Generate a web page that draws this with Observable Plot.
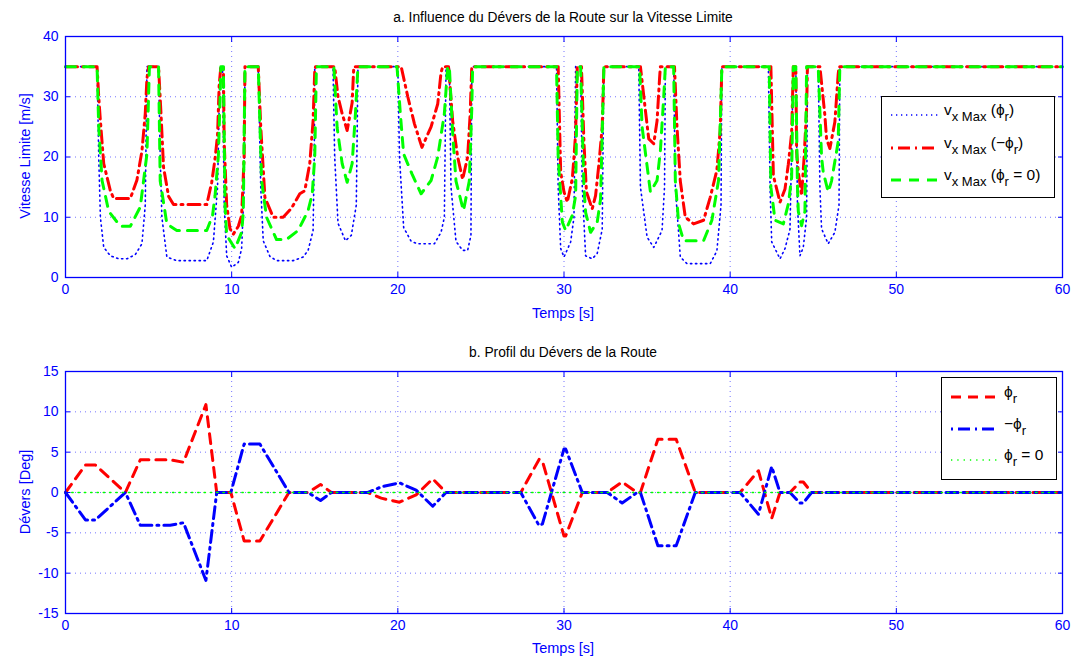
<!DOCTYPE html>
<html>
<head>
<meta charset="utf-8">
<script src="https://cdn.jsdelivr.net/npm/d3@7"></script>
<script src="https://cdn.jsdelivr.net/npm/@observablehq/plot@0.6"></script>
<style>
  html, body { margin: 0; padding: 0; background: #fff; }
  body { width: 1078px; height: 657px; position: relative; overflow: hidden; font-family: "Liberation Sans", Arial, sans-serif; }
  .abs { position: absolute; white-space: nowrap; }
  .title { font-size: 13.8px; color: #000; line-height: 18px; transform: translateX(-50%); }
  .xlab { font-size: 14.5px; color: #0000ff; line-height: 16px; transform: translateX(-50%); }
  .ylab { font-size: 14.5px; color: #0000ff; line-height: 16px; transform: translate(-50%, -50%) rotate(-90deg); }
  .legend { position: absolute; background: #fff; border: 1px solid #000; box-sizing: border-box; }
  .legend svg { position: absolute; left: 0; top: 0; }
  .row { position: absolute; white-space: nowrap; color: #000; line-height: 18px; }
  .m { font-size: 15.5px; }
  .s { font-size: 13px; position: relative; top: 6px; }
</style>
</head>
<body>
<div id="p1" class="abs" style="left:0;top:0"></div>
<div id="p2" class="abs" style="left:0;top:330px"></div>
<script>
// ---------- data ----------
const xTicks = [0, 10, 20, 30, 40, 50, 60];
const yTicksTop = [0, 10, 20, 30, 40];
const yTicksBot = [-15, -10, -5, 0, 5, 10, 15];

// v_x Max (phi_r)  [t (s), v (m/s)]
const vxPhi = [
  [0,35],[1.9,35],[2.0,20],[2.1,10],[2.3,5.0],[2.7,3.6],[3.2,3.1],[3.7,3.1],[4.2,3.8],[4.6,5.6],[4.8,12],[4.9,35],
  [5.6,35],[5.7,20],[5.8,10],[6.1,3.4],[6.7,2.8],[8.5,2.8],[8.9,5.9],[9.15,15],[9.3,35],
  [9.45,35],[9.55,12],[9.7,3.6],[10.0,1.7],[10.4,2.5],[10.6,4.8],[10.75,15],[10.8,35],
  [11.6,35],[11.75,15],[11.9,6.1],[12.3,3.5],[12.7,2.8],[13.7,2.8],[14.3,3.4],[14.6,4.5],[14.9,7.8],[14.97,20],[15.0,35],
  [16.1,35],[16.2,20],[16.4,9],[16.85,6.1],[17.2,7],[17.5,12],[17.6,35],
  [20.0,35],[20.1,20],[20.35,8.3],[20.8,6.0],[21.2,5.6],[22.2,5.6],[22.6,7.5],[22.8,10],[22.9,35],
  [23.1,35],[23.2,15],[23.5,6],[23.9,4.5],[24.2,4.5],[24.4,7],[24.45,35],
  [29.55,35],[29.65,15],[29.8,4.8],[30.0,3.4],[30.4,5.9],[30.6,10],[30.7,35],
  [31.0,35],[31.1,15],[31.3,3.6],[31.7,3.1],[32.0,4],[32.3,8],[32.4,35],
  [34.5,35],[34.6,15],[35.0,6.7],[35.4,5.0],[35.9,7.8],[36.05,15],[36.1,35],
  [36.6,35],[36.7,15],[37.0,3.4],[37.4,2.3],[38.8,2.3],[39.2,4.4],[39.45,12],[39.5,35],
  [42.3,35],[42.4,15],[42.5,5.9],[43.0,3.1],[43.3,4.8],[43.6,8],[43.8,35],
  [43.95,35],[44.05,12],[44.2,3.6],[44.4,5],[44.6,10],[44.65,35],
  [45.3,35],[45.4,15],[45.5,8.1],[45.9,5.6],[46.3,7.5],[46.55,12],[46.6,35],[60,35]
];

// v_x Max (-phi_r)
const vxNegPhi = [
  [0,35],[1.9,35],[2.0,30],[2.1,26],[2.3,18.9],[2.7,14.4],[2.9,13.1],[3.9,13.1],[4.3,16.2],[4.6,21],[4.8,27.2],[4.9,33],[5.0,35],
  [5.6,35],[5.75,27],[5.9,18.3],[6.2,13.5],[6.5,12.1],[8.5,12.1],[8.8,15.8],[9.0,19.7],[9.15,23.6],[9.25,32],[9.35,35],
  [9.5,35],[9.55,22.5],[9.7,12],[9.9,8.1],[10.1,7.2],[10.4,8.5],[10.6,10.3],[10.75,20],[10.8,35],
  [11.6,35],[11.75,25],[12.0,13.3],[12.5,10],[13.1,10],[13.6,11.5],[14.1,13.9],[14.4,14.4],[14.7,18.9],[14.9,26],[15.0,34.4],[15.05,35],
  [16.2,35],[16.4,30],[16.65,27.2],[16.95,24.4],[17.25,29],[17.35,35],
  [20.2,35],[20.6,30],[21.0,25.5],[21.45,21.6],[22.0,25],[22.4,28.8],[22.6,34],[22.7,35],
  [23.05,35],[23.3,26],[23.6,20],[23.9,16.3],[24.2,20],[24.35,27],[24.45,35],
  [29.65,35],[29.8,17.5],[30.0,14.2],[30.2,12.5],[30.5,16.4],[30.6,20],[30.7,24],[30.8,35],
  [31.05,35],[31.2,22.5],[31.35,14.2],[31.7,11.4],[31.9,13.6],[32.1,18.8],[32.3,25],[32.4,35],
  [34.6,35],[34.9,27.7],[35.1,23],[35.4,22.2],[35.6,26],[35.75,33],[35.8,35],
  [36.65,35],[36.8,25],[37.0,16],[37.3,10],[37.8,8.9],[38.4,9.5],[38.8,13.3],[39.2,17.8],[39.4,24.4],[39.5,35],
  [42.45,35],[42.6,16.9],[43.0,12.5],[43.3,14.7],[43.5,18.8],[43.7,24],[43.8,35],
  [43.95,35],[44.0,20.8],[44.1,17.5],[44.3,13.6],[44.45,20],[44.6,28],[44.65,35],
  [45.4,35],[45.7,26.9],[45.8,23],[46.0,21.4],[46.3,25.8],[46.5,33.7],[46.55,35],[60,35]
];

// v_x Max (phi_r = 0)
const vxZero = [
  [0,35],[1.9,35],[2.0,25],[2.2,16.1],[2.6,11],[3.3,8.5],[3.9,8.5],[4.5,11.7],[4.9,20.5],[5.05,35],
  [5.6,35],[5.7,16],[6.1,8.9],[6.7,7.8],[8.5,7.8],[8.85,10.3],[9.0,13.6],[9.2,20.2],[9.3,29.4],[9.35,35],
  [9.5,35],[9.6,12],[9.7,7],[10.2,4.8],[10.6,7.5],[10.7,10.8],[10.8,35],
  [11.6,35],[11.8,16.1],[12.1,10],[12.7,6.3],[13.3,6.3],[14.0,7.8],[14.6,11.1],[14.85,13.9],[15.0,20],[15.1,35],
  [16.15,35],[16.35,24.8],[16.65,18.9],[16.95,15.8],[17.25,18.9],[17.45,27.2],[17.6,35],
  [19.95,35],[20.15,27.2],[20.35,20.5],[20.85,17.2],[21.4,13.9],[22.0,16.1],[22.4,20],[22.8,27.2],[23.0,35],
  [23.1,35],[23.3,24],[23.5,16],[23.95,11.1],[24.3,16],[24.45,28],[24.5,35],
  [29.55,35],[29.65,20],[29.9,9.2],[30.1,7.8],[30.5,10.3],[30.7,13.6],[30.8,35],
  [31.0,35],[31.2,15],[31.3,10.8],[31.6,7.5],[32.0,9.2],[32.2,13],[32.4,35],
  [34.55,35],[34.7,25],[35.2,14.2],[35.6,16.1],[35.8,21],[36.0,29.9],[36.1,35],
  [36.6,35],[36.7,16.1],[36.9,8.9],[37.2,6.1],[38.4,6.1],[38.9,9.5],[39.3,16.1],[39.45,30],[39.5,35],
  [42.35,35],[42.45,15],[42.7,9.5],[43.2,8.9],[43.5,12.2],[43.7,16.6],[43.8,35],
  [43.95,35],[44.05,15],[44.1,11],[44.3,8.6],[44.5,11],[44.6,35],
  [45.3,35],[45.5,20],[45.6,17.5],[45.9,14.2],[46.1,16],[46.5,22.5],[46.6,35],[60,35]
];

// bank angle phi_r [t (s), deg]
const phi = [
  [0,0],[1.2,3.4],[1.8,3.4],[3.6,0],[4.5,4.05],[6.3,4.05],[7.1,3.75],[8.45,10.9],[9.1,0],[9.95,0],
  [10.75,-6.0],[11.7,-6.0],[13.45,0],[14.6,0],[15.35,1.0],[16.0,0],[18.2,0],[19.0,-0.7],[20.1,-1.2],
  [21.1,-0.3],[22.1,1.7],[22.9,0],[27.4,0],[28.5,4.1],[28.7,3.9],[30.0,-5.4],[30.1,-5.4],[31.1,0],
  [32.6,0],[33.5,1.3],[34.4,0],[34.6,0],[35.65,6.6],[36.75,6.6],[37.9,0],[40.6,0],[41.7,2.7],
  [42.5,-3.2],[43.0,0],[43.6,0],[44.2,1.3],[44.4,1.3],[44.9,0],[60,0]
];
// -phi_r
const phiNeg = [
  [0,0],[1.2,-3.4],[1.8,-3.4],[3.6,0],[4.5,-4.05],[6.3,-4.05],[7.1,-3.75],[8.45,-10.9],[9.1,0],[9.95,0],
  [10.75,6.0],[11.7,6.0],[13.45,0],[14.6,0],[15.35,-1.0],[16.0,0],[18.2,0],[19.0,0.7],[20.1,1.2],
  [21.1,0.3],[22.1,-1.7],[22.9,0],[27.4,0],[28.5,-4.1],[28.7,-3.9],[30.0,5.4],[30.1,5.4],[31.1,0],
  [32.6,0],[33.5,-1.3],[34.4,0],[34.6,0],[35.65,-6.6],[36.75,-6.6],[37.9,0],[40.6,0],[41.7,-2.7],
  [42.5,3.2],[43.0,0],[43.6,0],[44.2,-1.3],[44.4,-1.3],[44.9,0],[60,0]
];
// phi_r = 0
const phiZero = [[0,0],[60,0]];

// ---------- drawing ----------
const BLUE = "#0000ff", RED = "#ff0000", GREEN = "#00ff00";
const X = d => d[0], Y = d => d[1];

function frameMarks(yTicks) {
  const grid = {stroke: BLUE, strokeOpacity: 0.55, strokeDasharray: "1,4", strokeWidth: 1};
  return [
    Plot.gridX(xTicks, grid),
    Plot.gridY(yTicks, grid)
  ];
}
function axisMarks(yTicks) {
  return [
    Plot.frame({stroke: BLUE, strokeWidth: 1.3}),
    Plot.axisX(xTicks, {anchor: "bottom", tickSize: 5, dy: -5, tickPadding: 7, stroke: BLUE, label: null, tickFormat: d => String(d)}),
    Plot.axisX(xTicks, {anchor: "top", tickSize: 5, dy: 5, stroke: BLUE, fill: "none", label: null}),
    Plot.axisY(yTicks, {anchor: "left", tickSize: 5, dx: 5, tickPadding: 7, stroke: BLUE, label: null, tickFormat: d => String(d)}),
    Plot.axisY(yTicks, {anchor: "right", tickSize: 5, dx: -5, stroke: BLUE, fill: "none", label: null})
  ];
}

const common = {
  width: 1078,
  marginLeft: 65,
  marginRight: 16,
  style: {fontFamily: "'Liberation Sans', Arial, sans-serif", fontSize: "14px", color: BLUE, background: "transparent", overflow: "visible"}
};

const plot1 = Plot.plot({
  ...common,
  height: 330,
  marginTop: 36,
  marginBottom: 53,
  x: {domain: [0, 60]},
  y: {domain: [0, 40]},
  marks: [
    ...frameMarks(yTicksTop),
    Plot.line(vxPhi, {x: X, y: Y, stroke: BLUE, strokeWidth: 1.6, strokeDasharray: "1.3,3.7"}),
    Plot.line(vxNegPhi, {x: X, y: Y, stroke: RED, strokeWidth: 3, strokeDasharray: "12,5,2,5"}),
    Plot.line(vxZero, {x: X, y: Y, stroke: GREEN, strokeWidth: 3, strokeDasharray: "10,8"}),
    ...axisMarks(yTicksTop)
  ]
});
document.getElementById("p1").appendChild(plot1);

const plot2 = Plot.plot({
  ...common,
  height: 327,
  marginTop: 41,
  marginBottom: 44,
  x: {domain: [0, 60]},
  y: {domain: [-15, 15]},
  marks: [
    ...frameMarks(yTicksBot),
    Plot.line(phi, {x: X, y: Y, stroke: RED, strokeWidth: 3, strokeDasharray: "10,7"}),
    Plot.line(phiNeg, {x: X, y: Y, stroke: BLUE, strokeWidth: 3, strokeDasharray: "12,5,2,5"}),
    Plot.line(phiZero, {x: X, y: Y, stroke: GREEN, strokeWidth: 1.6, strokeDasharray: "1.3,5"}),
    ...axisMarks(yTicksBot)
  ]
});
document.getElementById("p2").appendChild(plot2);

// ---------- text: titles & labels ----------
function addText(cls, text, left, top) {
  const d = document.createElement("div");
  d.className = "abs " + cls;
  d.style.left = left + "px";
  d.style.top = top + "px";
  d.textContent = text;
  document.body.appendChild(d);
}
addText("title", "a. Influence du Dévers de la Route sur la Vitesse Limite", 563, 9);
addText("title", "b. Profil du Dévers de la Route", 563, 344);
addText("xlab", "Temps [s]", 563, 305);
addText("xlab", "Temps [s]", 563, 640);
addText("ylab", "Vitesse Limite [m/s]", 25, 156);
addText("ylab", "Dévers [Deg]", 25, 492);

// ---------- legends ----------
function legend(left, top, width, height, lineX1, lineX2, textX, rows) {
  const box = document.createElement("div");
  box.className = "legend";
  Object.assign(box.style, {left: left + "px", top: top + "px", width: width + "px", height: height + "px"});
  const ns = "http://www.w3.org/2000/svg";
  const svg = document.createElementNS(ns, "svg");
  svg.setAttribute("width", width);
  svg.setAttribute("height", height);
  rows.forEach(r => {
    const l = document.createElementNS(ns, "line");
    l.setAttribute("x1", lineX1); l.setAttribute("x2", lineX2);
    l.setAttribute("y1", r.y); l.setAttribute("y2", r.y);
    l.setAttribute("stroke", r.stroke);
    l.setAttribute("stroke-width", r.width);
    l.setAttribute("stroke-dasharray", r.dash);
    svg.appendChild(l);
    const t = document.createElement("div");
    t.className = "row";
    t.style.left = textX + "px";
    t.style.top = (r.y - 14) + "px";
    t.innerHTML = r.html;
    box.appendChild(t);
  });
  box.insertBefore(svg, box.firstChild);
  document.body.appendChild(box);
}
const vx = '<span class="m">v</span><span class="s">x Max</span><span class="m"> </span>';
legend(881, 96, 174, 102, 9, 57, 62, [
  {y: 18, stroke: BLUE, width: 1.6, dash: "1.3,3.7", html: vx + '<span class="m">(ϕ</span><span class="s">r</span><span class="m">)</span>'},
  {y: 51, stroke: RED, width: 3, dash: "2,5,12,5", html: vx + '<span class="m">(−ϕ</span><span class="s">r</span><span class="m">)</span>'},
  {y: 83, stroke: GREEN, width: 3, dash: "10,8", html: vx + '<span class="m">(ϕ</span><span class="s">r</span><span class="m"> = 0)</span>'}
]);
legend(941, 377, 116, 103, 9, 57, 62, [
  {y: 19, stroke: RED, width: 3, dash: "10,7", html: '<span class="m">ϕ</span><span class="s">r</span>'},
  {y: 51, stroke: BLUE, width: 3, dash: "2,5,12,5", html: '<span class="m">−ϕ</span><span class="s">r</span>'},
  {y: 82, stroke: GREEN, width: 1.6, dash: "1.3,5", html: '<span class="m">ϕ</span><span class="s">r</span><span class="m"> = 0</span>'}
]);
</script>
</body>
</html>
